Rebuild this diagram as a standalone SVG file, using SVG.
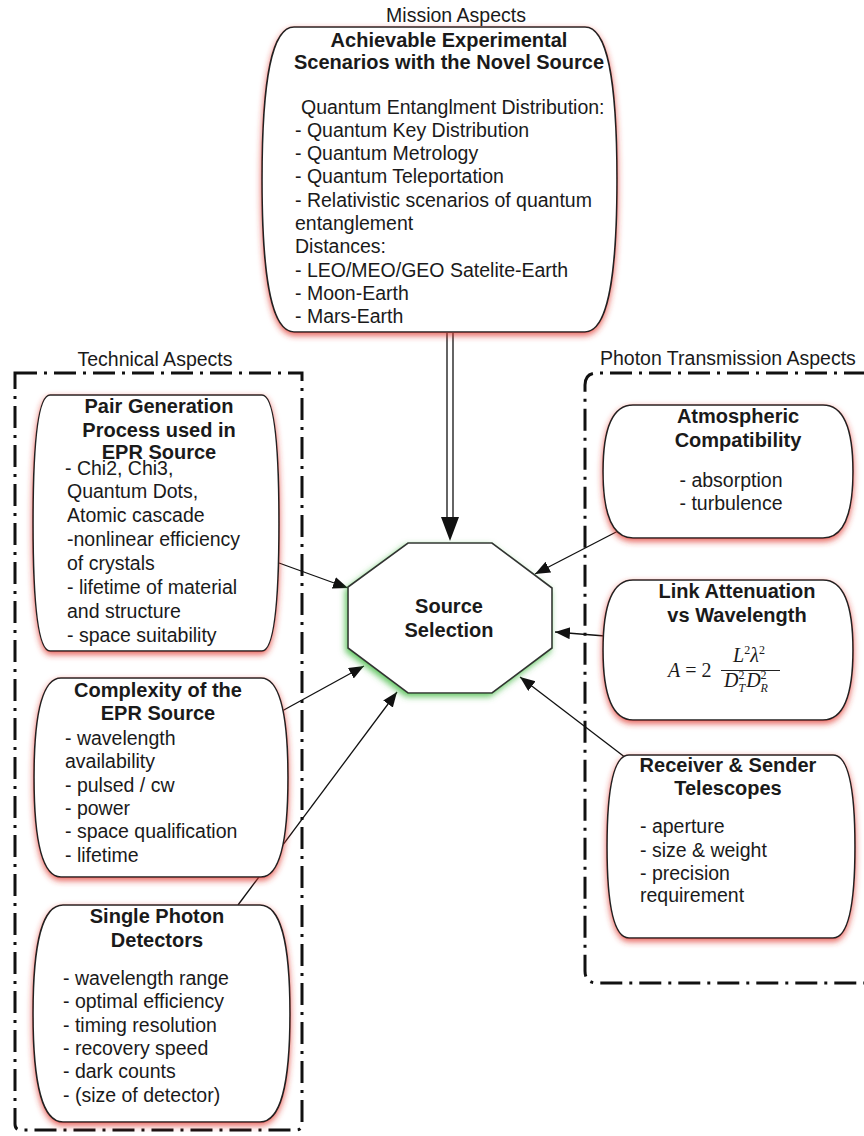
<svg xmlns="http://www.w3.org/2000/svg" width="864" height="1136" viewBox="0 0 864 1136">
<style>
text{font-family:"Liberation Sans",Arial,sans-serif;fill:#1a1a1a;font-size:19.5px}
.t{font-weight:bold;text-anchor:middle;font-size:20px}
.c{text-anchor:middle}
.node{fill:#fff;stroke:#222;stroke-width:1.6;filter:url(#red)}
.oct{fill:#fff;stroke:#333;stroke-width:1.6;filter:url(#green)}
.dash{fill:none;stroke:#111;stroke-width:3;stroke-dasharray:22,7,3,7}
.conn{stroke:#111;stroke-width:1.3;fill:none}
.m{font-family:"Liberation Serif","Times New Roman",serif;font-size:20px}
</style>
<defs>
<filter id="red" x="-10%" y="-10%" width="120%" height="125%">
<feDropShadow dx="0" dy="3" stdDeviation="3" flood-color="#e0302a" flood-opacity="0.75"/>
</filter>
<filter id="green" x="-15%" y="-15%" width="130%" height="135%">
<feDropShadow dx="-2" dy="3" stdDeviation="3" flood-color="#3fb83f" flood-opacity="0.8"/>
</filter>
<marker id="arr" markerUnits="userSpaceOnUse" markerWidth="16" markerHeight="14" refX="15" refY="6" orient="auto">
<path d="M0,0 L15,6 L0,12 Z" fill="#111"/>
</marker>
</defs>
<rect width="864" height="1136" fill="#fff"/>

<g id="technical-aspects">
<path class="dash" d="M15,373 L302,373 L302,1124 Q302,1130 296,1130 L21,1130 Q15,1130 15,1124 Z"/>
<text class="c" x="155" y="366">Technical Aspects</text>
</g>
<g id="photon-transmission-aspects">
<path class="dash" d="M866,373 L597,373 Q585,373 585,385 L585,971 Q585,983 597,983 L866,983"/>
<text x="600" y="365">Photon Transmission Aspects</text>
</g>

<g id="connectors">
<line class="conn" x1="447" y1="333" x2="447" y2="518"/>
<line class="conn" x1="453" y1="333" x2="453" y2="518"/>
<path d="M441,517 L459,517 L450,541 Z" fill="#111"/>
<line class="conn" x1="279" y1="563" x2="348" y2="588" marker-end="url(#arr)"/>
<line class="conn" x1="282" y1="711" x2="364" y2="666" marker-end="url(#arr)"/>
<line class="conn" x1="238" y1="905" x2="397" y2="692" marker-end="url(#arr)"/>
<line class="conn" x1="620" y1="530" x2="535" y2="574" marker-end="url(#arr)"/>
<line class="conn" x1="605" y1="636" x2="555" y2="632" marker-end="url(#arr)"/>
<line class="conn" x1="626" y1="758" x2="520" y2="677" marker-end="url(#arr)"/>
</g>

<g id="mission">
<text class="c" x="456" y="22">Mission Aspects</text>
<path class="node" d="M294,27 L585,27 C606,27 617,73 617,179.5 C617,286 606,332 585,332 L294,332 C273,332 262,286 262,179.5 C262,73 273,27 294,27 Z"/>
<text class="t" x="449" y="47">Achievable Experimental</text>
<text class="t" x="449" y="69">Scenarios with the Novel Source</text>
<text x="301" y="114">Quantum Entanglment Distribution:</text>
<text x="295" y="137">- Quantum Key Distribution</text>
<text x="295" y="160">- Quantum Metrology</text>
<text x="295" y="183">- Quantum Teleportation</text>
<text x="295" y="207">- Relativistic scenarios of quantum</text>
<text x="295" y="230">entanglement</text>
<text x="295" y="253">Distances:</text>
<text x="295" y="277">- LEO/MEO/GEO Satelite-Earth</text>
<text x="295" y="300">- Moon-Earth</text>
<text x="295" y="323">- Mars-Earth</text>
</g>

<g id="pair-generation">
<path class="node" d="M50,395 L262,395 C273,395 279,433 279,523 C279,613 273,651 262,651 L50,651 C39,651 33,613 33,523 C33,433 39,395 50,395 Z"/>
<text class="t" x="159" y="413">Pair Generation</text>
<text class="t" x="159" y="437">Process  used in</text>
<text class="t" x="159" y="459">EPR Source</text>
<text x="65" y="475">- Chi2, Chi3,</text>
<text x="67" y="498">Quantum Dots,</text>
<text x="67" y="522">Atomic cascade</text>
<text x="67" y="546">-nonlinear efficiency</text>
<text x="67" y="570">of crystals</text>
<text x="67" y="594">- lifetime of material</text>
<text x="67" y="618">and structure</text>
<text x="67" y="642">- space suitability</text>
</g>

<g id="complexity">
<path class="node" d="M61,678 L261,678 C278.5,678 288,708 288,777.5 C288,847 278.5,877 261,877 L61,877 C43.5,877 34,847 34,777.5 C34,708 43.5,678 61,678 Z"/>
<text class="t" x="158" y="697">Complexity of the</text>
<text class="t" x="158" y="720">EPR Source</text>
<text x="65" y="745">- wavelength</text>
<text x="65" y="768">availability</text>
<text x="65" y="792">- pulsed / cw</text>
<text x="65" y="815">- power</text>
<text x="65" y="838">- space qualification</text>
<text x="65" y="862">- lifetime</text>
</g>

<g id="single-photon-detectors">
<path class="node" d="M63,905 L260,905 C279.5,905 290,937.5 290,1013.5 C290,1089.5 279.5,1122 260,1122 L63,1122 C43.5,1122 33,1089.5 33,1013.5 C33,937.5 43.5,905 63,905 Z"/>
<text class="t" x="157" y="923">Single Photon</text>
<text class="t" x="157" y="947">Detectors</text>
<text x="63" y="985">- wavelength range</text>
<text x="63" y="1008">- optimal efficiency</text>
<text x="63" y="1032">- timing resolution</text>
<text x="63" y="1055">- recovery speed</text>
<text x="63" y="1078">- dark counts</text>
<text x="63" y="1102">- (size of detector)</text>
</g>

<g id="atmospheric">
<path class="node" d="M633,405 L823,405 C842.5,405 853,425 853,471.5 C853,518 842.5,538 823,538 L633,538 C613.5,538 603,518 603,471.5 C603,425 613.5,405 633,405 Z"/>
<text class="t" x="738" y="423">Atmospheric</text>
<text class="t" x="738" y="447">Compatibility</text>
<text class="c" x="731" y="487">- absorption</text>
<text class="c" x="731" y="510">- turbulence</text>
</g>

<g id="link-attenuation">
<path class="node" d="M633,580 L823,580 C842.5,580 853,601 853,650 C853,699 842.5,720 823,720 L633,720 C613.5,720 603,699 603,650 C603,601 613.5,580 633,580 Z"/>
<text class="t" x="737" y="598">Link Attenuation</text>
<text class="t" x="737" y="622">vs Wavelength</text>
<text class="m" x="668" y="677"><tspan font-style="italic">A</tspan> = 2</text>
<line x1="721" y1="670.5" x2="780" y2="670.5" stroke="#222" stroke-width="1"/>
<text class="m" x="749" y="662" text-anchor="middle"><tspan font-style="italic">L</tspan><tspan font-size="12" dy="-8">2</tspan><tspan font-style="italic" dy="8">λ</tspan><tspan font-size="12" dy="-8">2</tspan></text>
<text class="m" x="724" y="687"><tspan font-style="italic">D</tspan><tspan font-size="12" dy="-8">2</tspan><tspan font-size="12" font-style="italic" dx="-6" dy="13">T</tspan><tspan font-style="italic" dx="1" dy="-5">D</tspan><tspan font-size="12" dy="-8">2</tspan><tspan font-size="12" font-style="italic" dx="-6" dy="13">R</tspan></text>
</g>

<g id="receiver-sender">
<path class="node" d="M629,755 L833,755 C847,755 855,782 855,846.5 C855,911 847,938 833,938 L629,938 C615,938 607,911 607,846.5 C607,782 615,755 629,755 Z"/>
<text class="t" x="728" y="772">Receiver &amp; Sender</text>
<text class="t" x="728" y="795">Telescopes</text>
<text x="640" y="833">- aperture</text>
<text x="640" y="857">- size &amp; weight</text>
<text x="640" y="880">- precision</text>
<text x="640" y="902">requirement</text>
</g>

<g id="source-selection">
<polygon class="oct" points="408,543 492,543 552,588 552,648 492,693 408,693 348,648 348,587"/>
<text class="t" x="449" y="613">Source</text>
<text class="t" x="449" y="637">Selection</text>
</g>
</svg>
